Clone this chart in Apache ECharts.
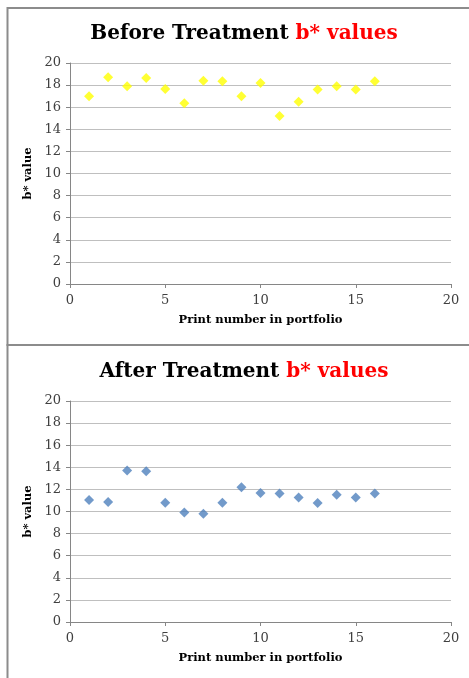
<!DOCTYPE html>
<html>
<head>
<meta charset="utf-8">
<script src="https://cdn.jsdelivr.net/npm/echarts@6/dist/echarts.min.js"></script>
<style>
html,body{margin:0;padding:0;background:#fff;}
#c{width:469px;height:678px;}
</style>
</head>
<body>
<div id="c"></div>
<script>
const printNumbers = [1,2,3,4,5,6,7,8,9,10,11,12,13,14,15,16];
const beforeValues = [17.0,18.7,17.9,18.65,17.65,16.35,18.4,18.35,17.0,18.2,15.2,16.5,17.6,17.9,17.6,18.35];
const afterValues = [11.03,10.85,13.7,13.65,10.8,9.9,9.8,10.8,12.2,11.67,11.63,11.27,10.77,11.52,11.27,11.62];
const titleBlack = ['Before Treatment ', 'After Treatment '];
const titleRed = 'b* values';
const xName = 'Print number in portfolio';
const yName = 'b* value';

const SERIF = '"DejaVu Serif", serif';

function pairs(vals){ return printNumbers.map((x,i)=>[x, vals[i]]); }

function xAxis(gi){
  return {
    type:'value', gridIndex:gi, min:0, max:20, interval:5,
    name:xName, nameLocation:'middle', nameGap:30,
    nameTextStyle:{fontFamily:SERIF, fontWeight:'bold', fontSize:11.5, color:'#000'},
    axisLine:{show:true, lineStyle:{color:'#868686', width:1}},
    axisTick:{show:true, length:4, lineStyle:{color:'#868686'}},
    axisLabel:{fontFamily:SERIF, fontSize:13, color:'#404040', margin:10},
    splitLine:{show:false}
  };
}
function yAxis(gi){
  return {
    type:'value', gridIndex:gi, min:0, max:20, interval:2,
    name:yName, nameLocation:'middle', nameGap:26, nameRotate:90,
    nameTextStyle:{fontFamily:SERIF, fontWeight:'bold', fontSize:11.5, color:'#000'},
    axisLine:{show:true, lineStyle:{color:'#868686', width:1}},
    axisTick:{show:true, length:4, lineStyle:{color:'#868686'}},
    axisLabel:{fontFamily:SERIF, fontSize:13, color:'#404040', margin:9},
    splitLine:{show:true, lineStyle:{color:'#bfbfbf', width:1}}
  };
}
function title(i, top){
  return {
    text:'{a|'+titleBlack[i]+'}{b|'+titleRed+'}',
    left:239, top:top, textAlign:'center',
    textStyle:{
      rich:{
        a:{fontFamily:SERIF, fontWeight:'bold', fontSize:20, color:'#000'},
        b:{fontFamily:SERIF, fontWeight:'bold', fontSize:20, color:'#ff0000'}
      }
    }
  };
}

const chart = echarts.init(document.getElementById('c'), null, {renderer:'canvas'});
chart.setOption({
  animation:false,
  backgroundColor:'#fff',
  title:[title(0, 19), title(1, 357)],
  grid:[
    {left:70, right:18, top:63, height:221},
    {left:70, right:18, top:401, height:221}
  ],
  xAxis:[xAxis(0), xAxis(1)],
  yAxis:[yAxis(0), yAxis(1)],
  series:[
    {type:'scatter', xAxisIndex:0, yAxisIndex:0, data:pairs(beforeValues),
     symbol:'diamond', symbolSize:10, itemStyle:{color:'#ffff00'}},
    {type:'scatter', xAxisIndex:1, yAxisIndex:1, data:pairs(afterValues),
     symbol:'diamond', symbolSize:10, itemStyle:{color:'#4f81bd'}}
  ],
  graphic:[
    {type:'rect', shape:{x:7.5, y:8, width:480, height:337}, style:{fill:null, stroke:'#8c8c8c', lineWidth:2}, silent:true},
    {type:'rect', shape:{x:7.5, y:345, width:480, height:400}, style:{fill:null, stroke:'#8c8c8c', lineWidth:2}, silent:true}
  ]
});
</script>
</body>
</html>
